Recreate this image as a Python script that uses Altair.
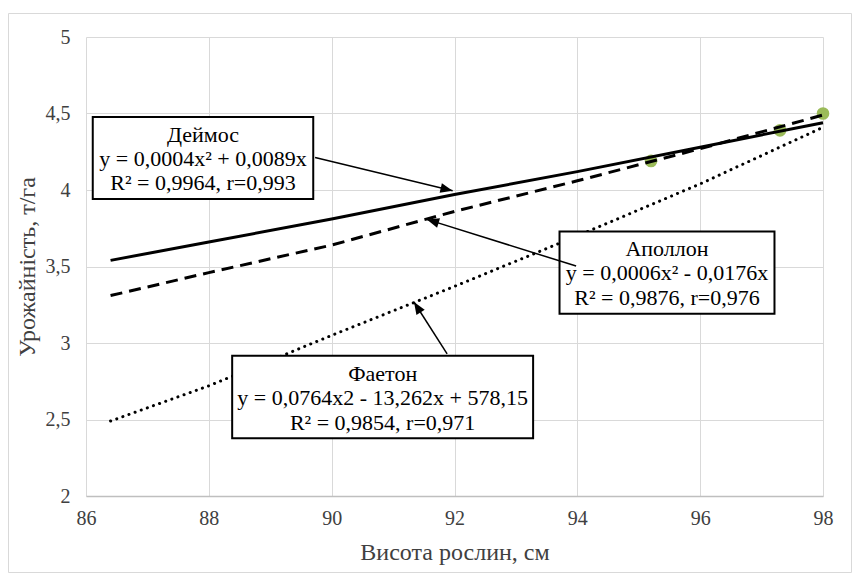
import math
import altair as alt
import pandas as pd

# ---- data ----
x_ticks = [86, 88, 90, 92, 94, 96, 98]
y_ticks = [2, 2.5, 3, 3.5, 4, 4.5, 5]

obs_x = [95.2, 97.3, 98.0]
obs_y = [4.19, 4.39, 4.50]

trend_x = [86.4, 88, 90, 92, 94, 96, 98]
deimos_y = [3.54, 3.66, 3.81, 3.97, 4.12, 4.28, 4.44]
apollon_y = [3.31, 3.46, 3.64, 3.86, 4.06, 4.27, 4.49]
faeton_y = [2.49, 2.72, 3.05, 3.37, 3.70, 4.04, 4.41]

box_lines = [
    ["Деймос", "y = 0,0004x² + 0,0089x", "R² = 0,9964, r=0,993"],
    ["Аполлон", "y = 0,0006x² - 0,0176x", "R² = 0,9876, r=0,976"],
    ["Фаетон", "y = 0,0764x2 - 13,262x + 578,15", "R² = 0,9854, r=0,971"],
]
box_x1 = [86.11, 93.71, 88.38]
box_x2 = [89.70, 97.21, 93.28]
box_y1 = [4.477, 3.728, 2.917]
box_y2 = [3.941, 3.191, 2.377]
box_cx = [87.905, 95.46, 90.83]
box_line_y = [[4.359, 4.203, 4.046], [3.614, 3.458, 3.294], [2.80, 2.64, 2.477]]

arrow_sx = [89.73, 93.98, 91.88]
arrow_sy = [4.212, 3.503, 2.929]
arrow_hx = [91.97, 91.55, 91.34]
arrow_hy = [3.995, 3.808, 3.268]

# ---- layout ----
W, H = 737, 459
XMIN, XMAX, YMIN, YMAX = 86, 98, 2, 5
FONT = "Liberation Serif, Times New Roman, DejaVu Serif, serif"

xs = alt.Scale(domain=[XMIN, XMAX], nice=False, zero=False)
ys = alt.Scale(domain=[YMIN, YMAX], nice=False, zero=False)

obs = pd.DataFrame({"x": obs_x, "y": obs_y})
trend = pd.DataFrame({"x": trend_x, "d": deimos_y, "a": apollon_y, "f": faeton_y})

boxes = pd.DataFrame({"x1": box_x1, "x2": box_x2, "y1": box_y1, "y2": box_y2})
texts = pd.DataFrame(
    [
        {"x": box_cx[i], "y": box_line_y[i][j], "t": box_lines[i][j]}
        for i in range(3)
        for j in range(3)
    ]
)

pxx = W / (XMAX - XMIN)
pxy = H / (YMAX - YMIN)
angles = []
for sx, sy, hx, hy in zip(arrow_sx, arrow_sy, arrow_hx, arrow_hy):
    dx = (hx - sx) * pxx
    dy = -(hy - sy) * pxy
    angles.append(math.degrees(math.atan2(dx, -dy)) % 360)
arrows = pd.DataFrame(
    {"sx": arrow_sx, "sy": arrow_sy, "hx": arrow_hx, "hy": arrow_hy, "ang": angles}
)

xaxis = alt.Axis(
    values=x_ticks,
    format="d",
    title="Висота рослин, см",
    grid=True,
    ticks=False,
    tickSize=0,
    domainColor="#bfbfbf",
    domainWidth=1.5,
    labelPadding=12,
    labelFlush=False,
    titleY=56,
    titleBaseline="middle",
)
yaxis = alt.Axis(
    values=y_ticks,
    title="Урожайність, т/га",
    grid=True,
    ticks=False,
    tickSize=0,
    domain=False,
    labelPadding=16,
    labelFlush=False,
    labelExpr="replace(format(datum.value, '~g'), '.', ',')",
    titleX=-59,
    titleBaseline="middle",
)

base_x = alt.X("x:Q", scale=xs, axis=xaxis)
base_y = alt.Y("y:Q", scale=ys, axis=yaxis)

border = alt.Chart(pd.DataFrame({"k": [0]})).mark_rect(
    fill="white", fillOpacity=0, stroke="#d9d9d9", strokeWidth=1
).encode(
    x=alt.value(-77.5), x2=alt.value(765.5), y=alt.value(-23.5), y2=alt.value(535.5)
)

dots = alt.Chart(obs).mark_circle(size=160, color="#9BBB59", opacity=1).encode(
    x=base_x, y=base_y
)

l_d = alt.Chart(trend).mark_line(color="black", strokeWidth=3).encode(
    x=alt.X("x:Q", scale=xs), y=alt.Y("d:Q", scale=ys)
)
l_a = alt.Chart(trend).mark_line(color="black", strokeWidth=3, strokeDash=[12, 7]).encode(
    x=alt.X("x:Q", scale=xs), y=alt.Y("a:Q", scale=ys)
)
l_f = alt.Chart(trend).mark_line(
    color="black", strokeWidth=3, strokeDash=[0.1, 6.4], strokeCap="round"
).encode(x=alt.X("x:Q", scale=xs), y=alt.Y("f:Q", scale=ys))

rects = alt.Chart(boxes).mark_rect(fill="white", stroke="black", strokeWidth=2).encode(
    x=alt.X("x1:Q", scale=xs), x2="x2:Q", y=alt.Y("y1:Q", scale=ys), y2="y2:Q"
)

labels = alt.Chart(texts).mark_text(
    font=FONT, fontSize=22, color="black", align="center", baseline="middle"
).encode(x=alt.X("x:Q", scale=xs), y=alt.Y("y:Q", scale=ys), text="t:N")

arrow_lines = alt.Chart(arrows).mark_rule(color="black", strokeWidth=1.5).encode(
    x=alt.X("sx:Q", scale=xs), y=alt.Y("sy:Q", scale=ys), x2="hx:Q", y2="hy:Q"
)
arrow_heads = alt.Chart(arrows).mark_point(
    shape="M0,0 L0.8,2 L-0.8,2 Z", filled=True, color="black", size=150, opacity=1
).encode(
    x=alt.X("hx:Q", scale=xs),
    y=alt.Y("hy:Q", scale=ys),
    angle=alt.Angle("ang:Q", scale=None),
)

chart = (
    alt.layer(border, dots, l_d, l_a, l_f, rects, labels, arrow_lines, arrow_heads)
    .properties(
        width=W,
        height=H,
        autosize=alt.AutoSizeParams(type="none"),
        padding={"left": 78, "top": 29, "right": 29, "bottom": 77},
        background="white",
    )
    .configure_view(stroke=None)
    .configure_axis(
        gridColor="#d9d9d9",
        gridWidth=1,
        labelFont=FONT,
        labelFontSize=20,
        labelColor="#404040",
        titleFont=FONT,
        titleFontSize=24,
        titleFontWeight="normal",
        titleColor="#404040",
    )
)

chart.save("out.html", embed_options={"renderer": "svg", "actions": False})
